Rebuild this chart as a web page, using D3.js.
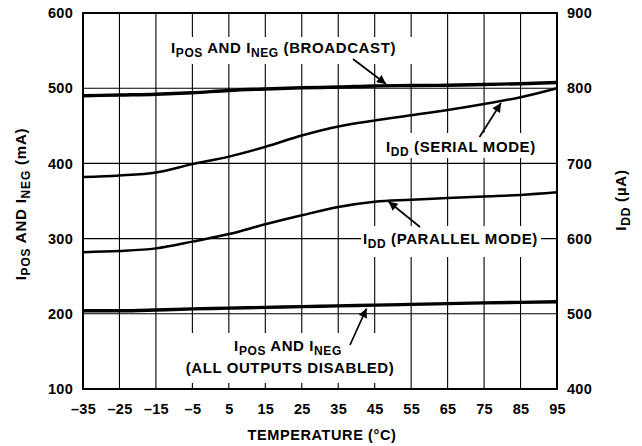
<!DOCTYPE html>
<html><head><meta charset="utf-8">
<script src="https://cdn.jsdelivr.net/npm/d3@7"></script>
<style>
body{margin:0;background:#fff;}
text{font-family:"Liberation Sans",Arial,sans-serif;font-weight:bold;fill:#000;}
</style></head>
<body><svg id="c" width="642" height="446"></svg>
<script>
// ---- data ----
const temps = [-35,-25,-15,-5,5,15,25,35,45,55,65,75,85,95];
const broadcast = [490,491,492,494,497,499,500.5,501.5,503,503.5,504,505,506,507.5]; // mA, left axis
const serial = [682,684,688,699,709,722,737,749,757,764,771,779,788,800];          // uA, right axis
const parallel = [582,583.5,587,596,606,619,631,642,649,651.5,654,656,658,661.5];  // uA, right axis
const disabled = [204,204,205,206.5,207.5,208.5,209.5,210.5,211.5,212.5,213.5,214.5,215.2,216]; // mA, left axis
const xTicks = [-35,-25,-15,-5,5,15,25,35,45,55,65,75,85,95];
const yLeftTicks = [100,200,300,400,500,600];
const yRightTicks = [400,500,600,700,800,900];

const svg = d3.select("#c");
const L=83,R=557,T=13,B=389;
const x = d3.scaleLinear().domain([-35,95]).range([L,R]);
const yL = d3.scaleLinear().domain([100,600]).range([B,T]);
const yR = d3.scaleLinear().domain([400,900]).range([B,T]);
const fmt = d => d<0 ? "\u2013"+Math.abs(d) : String(d);

// grid
const g = svg.append("g");
g.selectAll("line.v").data(xTicks).enter().append("line")
 .attr("x1",d=>x(d)).attr("x2",d=>x(d)).attr("y1",T).attr("y2",B)
 .attr("stroke","#000").attr("stroke-width",1.1);
g.selectAll("line.h").data([200,300,400,500]).enter().append("line")
 .attr("x1",L).attr("x2",R).attr("y1",d=>yL(d)).attr("y2",d=>yL(d))
 .attr("stroke","#000").attr("stroke-width",1.1);

// white boxes behind annotations
const boxes = [[160,37,257,27],[382,133,158,25],[361,226,180,31],[184,333,212,50]];
svg.selectAll("rect.bg").data(boxes).enter().append("rect")
 .attr("x",d=>d[0]).attr("y",d=>d[1]).attr("width",d=>d[2]).attr("height",d=>d[3]).attr("fill","#fff");

// border
svg.append("rect").attr("x",L).attr("y",T).attr("width",R-L).attr("height",B-T)
 .attr("fill","none").attr("stroke","#000").attr("stroke-width",2);

// axes
const ax = svg.append("g").attr("transform",`translate(0,${B})`)
 .call(d3.axisBottom(x).tickValues(xTicks).tickFormat(fmt).tickSize(0).tickPadding(15));
const ayl = svg.append("g").attr("transform",`translate(${L},0)`)
 .call(d3.axisLeft(yL).tickValues(yLeftTicks).tickFormat(fmt).tickSize(0).tickPadding(10));
const ayr = svg.append("g").attr("transform",`translate(${R},0)`)
 .call(d3.axisRight(yR).tickValues(yRightTicks).tickFormat(fmt).tickSize(0).tickPadding(10));
[ax,ayl,ayr].forEach(a=>{a.select(".domain").remove();
 a.selectAll("text").attr("font-size",14.5).attr("letter-spacing",0.3)
  .attr("font-family","Liberation Sans, Arial, sans-serif").attr("font-weight","bold").attr("fill","#000");});

// curves
const mk = (vals, sc) => d3.line().x((d,i)=>x(temps[i])).y(d=>sc(d)).curve(d3.curveMonotoneX)(vals);
const series = [[broadcast,yL,3.4],[disabled,yL,3.4],[serial,yR,2.5],[parallel,yR,2.5]];
svg.selectAll("path.s").data(series).enter().append("path")
 .attr("d",d=>mk(d[0],d[1])).attr("fill","none").attr("stroke","#000").attr("stroke-width",d=>d[2])
 .attr("stroke-linejoin","round");

// arrow marker
svg.append("defs").append("marker").attr("id","ah").attr("markerUnits","userSpaceOnUse")
 .attr("viewBox","0 0 10 10").attr("refX",10).attr("refY",5)
 .attr("markerWidth",12).attr("markerHeight",9).attr("orient","auto")
 .append("path").attr("d","M0,0 L10,5 L0,10 Z").attr("fill","#000");
const arrows = [[353,59,386,84],[479.5,137,501,103],[420,227,388.5,201.5],[350,345,366.5,308.5]];
svg.selectAll("line.ar").data(arrows).enter().append("line")
 .attr("x1",d=>d[0]).attr("y1",d=>d[1]).attr("x2",d=>d[2]).attr("y2",d=>d[3])
 .attr("stroke","#000").attr("stroke-width",1.7).attr("marker-end","url(#ah)");

// rich text helper: parts = [[text, isSub]]
function rich(sel, parts, fs, ls, sh){
  sh = sh===undefined ? 4 : sh;
  let sub=false;
  parts.forEach(p=>{
    const t = sel.append("tspan").text(p[0]).attr("letter-spacing",ls);
    if(p[1] && !sub){ t.attr("font-size",fs-3).attr("dy",sh); sub=true; }
    else if(!p[1] && sub){ t.attr("font-size",fs).attr("dy",-sh); sub=false; }
    else t.attr("font-size", p[1]?fs-3:fs);
  });
  return sel;
}
const FS=15, LS=0.6;
rich(svg.append("text").attr("x",171).attr("y",53),[["I"],["POS",1],[" AND I"],["NEG",1],[" (BROADCAST)"]],FS,LS);
rich(svg.append("text").attr("x",386).attr("y",152),[["I"],["DD",1],[" (SERIAL MODE)"]],FS,LS);
rich(svg.append("text").attr("x",363).attr("y",244),[["I"],["DD",1],[" (PARALLEL MODE)"]],FS,LS);
rich(svg.append("text").attr("x",288).attr("y",351).attr("text-anchor","middle"),[["I"],["POS",1],[" AND I"],["NEG",1]],FS,LS,3.5);
rich(svg.append("text").attr("x",290).attr("y",373).attr("text-anchor","middle"),[["(ALL OUTPUTS DISABLED)"]],FS,LS);

// axis titles
svg.append("text").attr("x",322).attr("y",440).attr("text-anchor","middle")
 .attr("font-size",14.5).attr("letter-spacing",0.6).text("TEMPERATURE (°C)");
rich(svg.append("text").attr("transform","translate(26,204) rotate(-90)").attr("text-anchor","middle"),
 [["I"],["POS",1],[" AND I"],["NEG",1],[" (mA)"]],FS,0.8);
rich(svg.append("text").attr("transform","translate(626,200) rotate(-90)").attr("text-anchor","middle"),
 [["I"],["DD",1],[" (µA)"]],FS,0.8);
</script></body></html>
